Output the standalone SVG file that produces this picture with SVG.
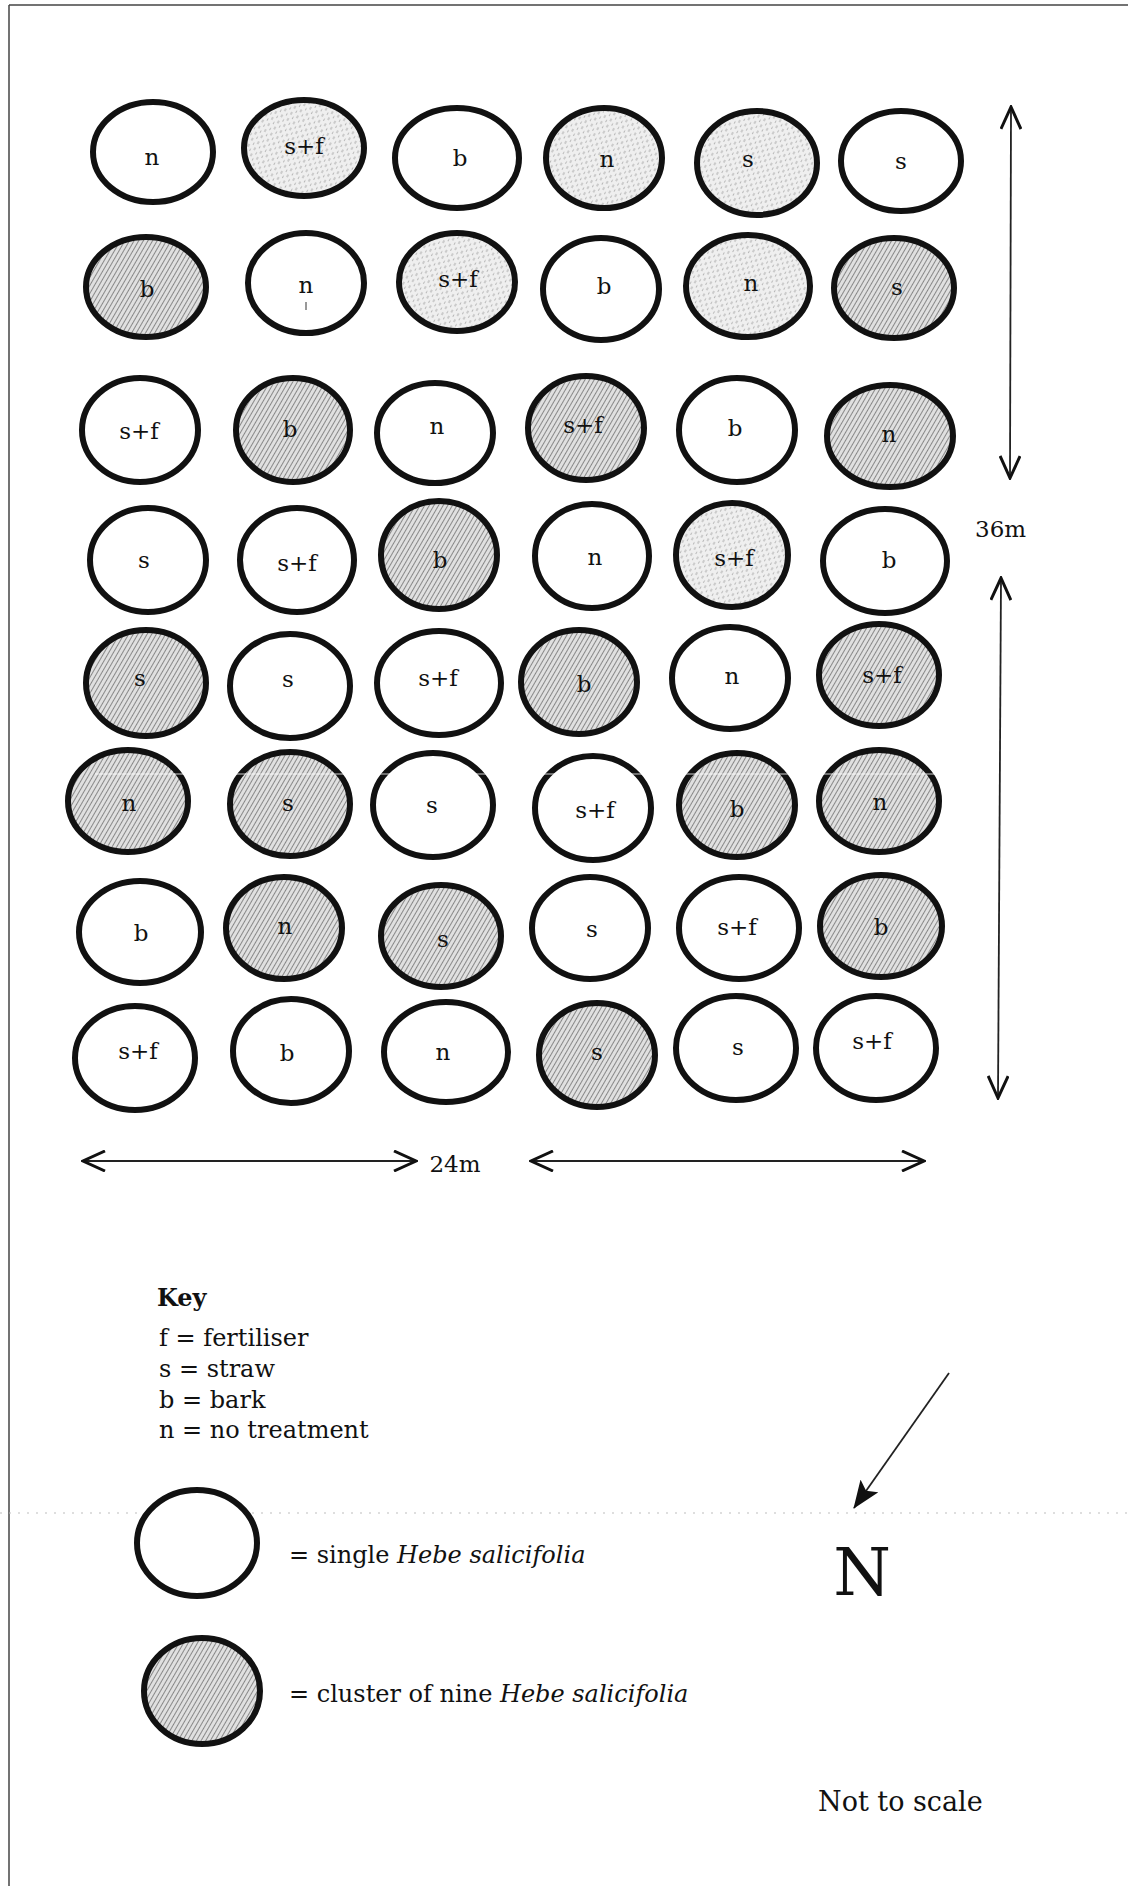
<svg xmlns="http://www.w3.org/2000/svg" width="1128" height="1886" viewBox="0 0 1128 1886">
<style>
  ellipse { stroke:#111; stroke-width:6; }
  .w { fill:#fff; }
  .h { fill:url(#hatch); }
  .l { fill:url(#stip); }
  text { font-family:"DejaVu Serif","Liberation Serif",serif; fill:#111; }
  .lbl { font-size:23px; text-anchor:middle; }
  .key { font-size:24px; }
  .dim { stroke:#222; stroke-width:1.8; fill:none; }
  .it { font-style:italic; }
</style>
<defs>
  <pattern id="hatch" width="4" height="4" patternUnits="userSpaceOnUse" patternTransform="rotate(30)">
    <rect width="4" height="4" fill="#e0e0e0"/>
    <line x1="0.5" y1="0" x2="0.5" y2="4" stroke="#888" stroke-width="1"/>
  </pattern>
  <pattern id="stip" width="7" height="7" patternUnits="userSpaceOnUse" patternTransform="rotate(30)">
    <rect width="7" height="7" fill="#efefef"/>
    <line x1="1" y1="0" x2="1" y2="3" stroke="#a8a8a8" stroke-width="1"/>
    <line x1="4.5" y1="3.5" x2="4.5" y2="6" stroke="#b8b8b8" stroke-width="1"/>
  </pattern>
  <marker id="open" viewBox="0 0 26 22" markerWidth="26" markerHeight="22" refX="24" refY="11" orient="auto-start-reverse" markerUnits="userSpaceOnUse">
    <path d="M2,1 L24,11 L2,21" fill="none" stroke="#111" stroke-width="3"/>
  </marker>
  <marker id="solid" viewBox="0 0 28 22" markerWidth="28" markerHeight="22" refX="27" refY="11" orient="auto" markerUnits="userSpaceOnUse">
    <path d="M0,0 L28,11 L0,22 L6,11 Z" fill="#111"/>
  </marker>
</defs>
<rect width="1128" height="1886" fill="#fff"/>
<g id="frame">
  <line x1="9" y1="5" x2="1128" y2="5" stroke="#444" stroke-width="1.5"/>
  <line x1="9" y1="5" x2="9" y2="1886" stroke="#444" stroke-width="1.5"/>
</g>

<g id="plots">
  <g id="r1c1"><ellipse class="w" cx="153" cy="152" rx="60" ry="50"/><text class="lbl" x="152" y="165">n</text></g>
  <g id="r1c2"><ellipse class="l" cx="304" cy="148" rx="60" ry="48"/><text class="lbl" x="304" y="154">s+f</text></g>
  <g id="r1c3"><ellipse class="w" cx="457" cy="158" rx="62" ry="50"/><text class="lbl" x="460" y="166">b</text></g>
  <g id="r1c4"><ellipse class="l" cx="604" cy="158" rx="58" ry="50"/><text class="lbl" x="607" y="167">n</text></g>
  <g id="r1c5"><ellipse class="l" cx="757" cy="163" rx="60" ry="52"/><text class="lbl" x="748" y="167">s</text></g>
  <g id="r1c6"><ellipse class="w" cx="901" cy="161" rx="60" ry="50"/><text class="lbl" x="901" y="169">s</text></g>

  <g id="r2c1"><ellipse class="h" cx="146" cy="287" rx="60" ry="50"/><text class="lbl" x="147" y="297">b</text></g>
  <g id="r2c2"><ellipse class="w" cx="306" cy="283" rx="58" ry="50"/><text class="lbl" x="306" y="293">n</text><line x1="306" y1="302" x2="306" y2="310" stroke="#333" stroke-width="1"/></g>
  <g id="r2c3"><ellipse class="l" cx="457" cy="282" rx="58" ry="49"/><text class="lbl" x="458" y="287">s+f</text></g>
  <g id="r2c4"><ellipse class="w" cx="601" cy="289" rx="58" ry="51"/><text class="lbl" x="604" y="294">b</text></g>
  <g id="r2c5"><ellipse class="l" cx="748" cy="286" rx="62" ry="51"/><text class="lbl" x="751" y="291">n</text></g>
  <g id="r2c6"><ellipse class="h" cx="894" cy="288" rx="60" ry="50"/><text class="lbl" x="897" y="295">s</text></g>

  <g id="r3c1"><ellipse class="w" cx="140" cy="430" rx="58" ry="52"/><text class="lbl" x="139" y="439">s+f</text></g>
  <g id="r3c2"><ellipse class="h" cx="293" cy="430" rx="57" ry="52"/><text class="lbl" x="290" y="437">b</text></g>
  <g id="r3c3"><ellipse class="w" cx="435" cy="433" rx="58" ry="50"/><text class="lbl" x="437" y="434">n</text></g>
  <g id="r3c4"><ellipse class="h" cx="586" cy="428" rx="58" ry="52"/><text class="lbl" x="583" y="433">s+f</text></g>
  <g id="r3c5"><ellipse class="w" cx="737" cy="430" rx="58" ry="52"/><text class="lbl" x="735" y="436">b</text></g>
  <g id="r3c6"><ellipse class="h" cx="890" cy="436" rx="63" ry="51"/><text class="lbl" x="889" y="442">n</text></g>

  <g id="r4c1"><ellipse class="w" cx="148" cy="560" rx="58" ry="52"/><text class="lbl" x="144" y="568">s</text></g>
  <g id="r4c2"><ellipse class="w" cx="297" cy="560" rx="57" ry="52"/><text class="lbl" x="297" y="571">s+f</text></g>
  <g id="r4c3"><ellipse class="h" cx="439" cy="555" rx="58" ry="54"/><text class="lbl" x="440" y="568">b</text></g>
  <g id="r4c4"><ellipse class="w" cx="592" cy="556" rx="57" ry="52"/><text class="lbl" x="595" y="565">n</text></g>
  <g id="r4c5"><ellipse class="l" cx="732" cy="555" rx="56" ry="52"/><text class="lbl" x="734" y="566">s+f</text></g>
  <g id="r4c6"><ellipse class="w" cx="885" cy="561" rx="62" ry="52"/><text class="lbl" x="889" y="568">b</text></g>

  <g id="r5c1"><ellipse class="h" cx="146" cy="683" rx="60" ry="53"/><text class="lbl" x="140" y="686">s</text></g>
  <g id="r5c2"><ellipse class="w" cx="290" cy="686" rx="60" ry="52"/><text class="lbl" x="288" y="687">s</text></g>
  <g id="r5c3"><ellipse class="w" cx="439" cy="683" rx="62" ry="52"/><text class="lbl" x="438" y="686">s+f</text></g>
  <g id="r5c4"><ellipse class="h" cx="579" cy="682" rx="58" ry="52"/><text class="lbl" x="584" y="692">b</text></g>
  <g id="r5c5"><ellipse class="w" cx="730" cy="678" rx="58" ry="51"/><text class="lbl" x="732" y="684">n</text></g>
  <g id="r5c6"><ellipse class="h" cx="879" cy="675" rx="60" ry="51"/><text class="lbl" x="882" y="683">s+f</text></g>

  <g id="r6c1"><ellipse class="h" cx="128" cy="801" rx="60" ry="51"/><text class="lbl" x="129" y="811">n</text></g>
  <g id="r6c2"><ellipse class="h" cx="290" cy="804" rx="60" ry="52"/><text class="lbl" x="288" y="811">s</text></g>
  <g id="r6c3"><ellipse class="w" cx="433" cy="805" rx="60" ry="52"/><text class="lbl" x="432" y="813">s</text></g>
  <g id="r6c4"><ellipse class="w" cx="593" cy="808" rx="58" ry="52"/><text class="lbl" x="595" y="818">s+f</text></g>
  <g id="r6c5"><ellipse class="h" cx="737" cy="805" rx="58" ry="52"/><text class="lbl" x="737" y="817">b</text></g>
  <g id="r6c6"><ellipse class="h" cx="879" cy="801" rx="60" ry="51"/><text class="lbl" x="880" y="810">n</text></g>

  <g id="r7c1"><ellipse class="w" cx="140" cy="932" rx="61" ry="51"/><text class="lbl" x="141" y="941">b</text></g>
  <g id="r7c2"><ellipse class="h" cx="284" cy="928" rx="58" ry="51"/><text class="lbl" x="285" y="934">n</text></g>
  <g id="r7c3"><ellipse class="h" cx="441" cy="936" rx="60" ry="51"/><text class="lbl" x="443" y="947">s</text></g>
  <g id="r7c4"><ellipse class="w" cx="590" cy="928" rx="58" ry="51"/><text class="lbl" x="592" y="937">s</text></g>
  <g id="r7c5"><ellipse class="w" cx="739" cy="928" rx="60" ry="51"/><text class="lbl" x="737" y="935">s+f</text></g>
  <g id="r7c6"><ellipse class="h" cx="881" cy="926" rx="61" ry="51"/><text class="lbl" x="881" y="935">b</text></g>

  <g id="r8c1"><ellipse class="w" cx="135" cy="1058" rx="60" ry="52"/><text class="lbl" x="138" y="1059">s+f</text></g>
  <g id="r8c2"><ellipse class="w" cx="291" cy="1051" rx="58" ry="52"/><text class="lbl" x="287" y="1061">b</text></g>
  <g id="r8c3"><ellipse class="w" cx="446" cy="1052" rx="62" ry="50"/><text class="lbl" x="443" y="1060">n</text></g>
  <g id="r8c4"><ellipse class="h" cx="597" cy="1055" rx="58" ry="52"/><text class="lbl" x="597" y="1060">s</text></g>
  <g id="r8c5"><ellipse class="w" cx="736" cy="1048" rx="60" ry="52"/><text class="lbl" x="738" y="1055">s</text></g>
  <g id="r8c6"><ellipse class="w" cx="876" cy="1048" rx="60" ry="52"/><text class="lbl" x="872" y="1049">s+f</text></g>
</g>

<g id="artifacts">
  <line x1="95" y1="774" x2="960" y2="774" stroke="#fff" stroke-width="1.2" opacity="0.8"/>
  <line x1="0" y1="1513" x2="1128" y2="1513" stroke="#bdbdbd" stroke-width="1" stroke-dasharray="2 7"/>
</g>

<g id="connectors">
  <line class="dim" x1="1011" y1="107" x2="1010" y2="478" marker-start="url(#open)" marker-end="url(#open)"/>
  <line class="dim" x1="1001" y1="578" x2="998" y2="1098" marker-start="url(#open)" marker-end="url(#open)"/>
  <line class="dim" x1="83" y1="1161" x2="416" y2="1161" marker-start="url(#open)" marker-end="url(#open)"/>
  <line class="dim" x1="531" y1="1161" x2="924" y2="1161" marker-start="url(#open)" marker-end="url(#open)"/>
  <line class="dim" x1="949" y1="1373" x2="854" y2="1508" marker-end="url(#solid)"/>
</g>

<g id="labels">
  <text x="975" y="537" font-size="23">36m</text>
  <text x="455" y="1172" font-size="23" text-anchor="middle">24m</text>
  <text x="862" y="1595" font-size="66" text-anchor="middle">N</text>
  <text x="818" y="1811" font-size="27">Not to scale</text>
</g>

<g id="key">
  <text class="key" x="157" y="1306" font-weight="bold">Key</text>
  <text class="key" x="159" y="1346">f = fertiliser</text>
  <text class="key" x="159" y="1377">s = straw</text>
  <text class="key" x="159" y="1408">b = bark</text>
  <text class="key" x="159" y="1438">n = no treatment</text>
  <g id="key-single"><ellipse class="w" cx="197" cy="1543" rx="60" ry="53"/><text class="key" x="289" y="1563">= single <tspan class="it">Hebe salicifolia</tspan></text></g>
  <g id="key-cluster"><ellipse class="h" cx="202" cy="1691" rx="58" ry="53"/><text class="key" x="289" y="1702">= cluster of nine <tspan class="it">Hebe salicifolia</tspan></text></g>
</g>
</svg>
